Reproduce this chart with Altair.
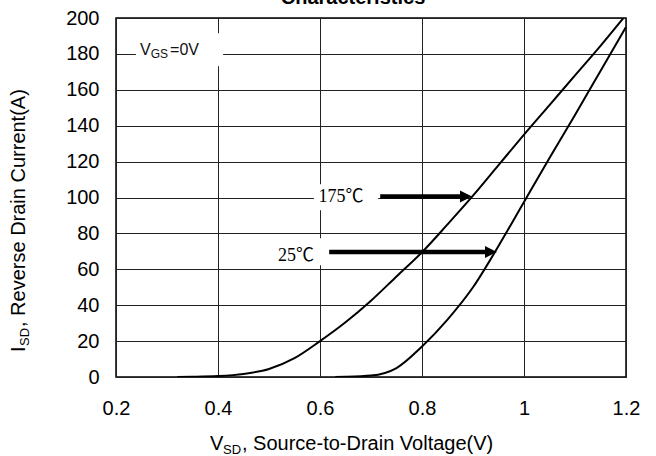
import altair as alt
import pandas as pd

# ---------------- data ----------------
vsd_175 = [0.32, 0.35, 0.40, 0.45, 0.50, 0.55, 0.60, 0.65, 0.70, 0.75, 0.80,
           0.85, 0.90, 0.95, 1.00, 1.05, 1.10, 1.15, 1.195]
isd_175 = [0, 0.1, 0.5, 1.7, 4.5, 10.5, 20, 30.5, 42.5, 56, 69.5,
           85, 101, 118, 135, 151.5, 168, 184.5, 200]
vsd_25 = [0.63, 0.65, 0.70, 0.75, 0.80, 0.85, 0.90, 0.95, 1.00, 1.05, 1.10, 1.15, 1.20]
isd_25 = [0, 0.1, 0.8, 5, 17, 32, 50, 73, 97.5, 122, 146, 170.5, 195]
series_names = ["175℃", "25℃"]
x_ticks = [0.2, 0.4, 0.6, 0.8, 1.0, 1.2]
y_ticks = [0, 20, 40, 60, 80, 100, 120, 140, 160, 180, 200]

# annotation anchors (data units)
label_v = [0.641, 0.553]
label_i = [100.5, 67.6]
arrow_start = [0.718, 0.618]
arrow_tip = [0.898, 0.947]
arrow_i = [100.5, 69.7]

W, H = 510, 359
SANS = "Liberation Sans, Arial, Helvetica, sans-serif"
SERIF = "Liberation Serif, Noto Sans CJK SC, serif"

curves = pd.concat([
    pd.DataFrame({"v": vsd_175, "i": isd_175, "s": series_names[0]}),
    pd.DataFrame({"v": vsd_25, "i": isd_25, "s": series_names[1]}),
])

xs = alt.Scale(domain=[0.2, 1.2], nice=False, zero=False)
ys = alt.Scale(domain=[0, 200], nice=False, zero=False)

X = alt.X("v:Q", scale=xs, axis=alt.Axis(
    values=x_ticks, format="~g", title=None, grid=True, gridColor="#222",
    gridWidth=1, gridOpacity=1, domain=False, ticks=False,
    labelFont=SANS, labelFontSize=20, labelColor="#000", labelPadding=21,
    labelFlush=False))
Y = alt.Y("i:Q", scale=ys, axis=alt.Axis(
    values=y_ticks, format="d", title=None, grid=True, gridColor="#222",
    gridWidth=1, gridOpacity=1, domain=False, ticks=False,
    labelFont=SANS, labelFontSize=20, labelColor="#000", labelPadding=17))

lines = alt.Chart(curves).mark_line(
    color="#000", strokeWidth=2, interpolate="monotone", clip=True
).encode(x=X, y=Y, detail="s:N")

# white boxes behind the annotation texts
boxes_df = pd.DataFrame({
    "v": [0.239, 0.588, 0.506], "v2": [0.410, 0.714, 0.610],
    "i": [173.1, 92.9, 62.2], "i2": [191.5, 107.4, 77.3]})
boxes = alt.Chart(boxes_df).mark_rect(fill="white", stroke=None).encode(
    x=X, x2="v2:Q", y=Y, y2="i2:Q")

temp_df = pd.DataFrame({"v": label_v, "i": label_i, "t": series_names})
temps = alt.Chart(temp_df).mark_text(
    font=SERIF, fontSize=18, color="#000", align="center", baseline="middle"
).encode(x=X, y=Y, text="t:N")

shaft_df = pd.DataFrame({"v": arrow_start, "v2": [t - 0.02 for t in arrow_tip], "i": arrow_i})
shafts = alt.Chart(shaft_df).mark_rule(color="#000", strokeWidth=4.5).encode(
    x=X, x2="v2:Q", y=Y)
tips_df = pd.DataFrame({"v": arrow_tip, "i": arrow_i})
tips = alt.Chart(tips_df).mark_point(
    shape="M0,0 L-1,-0.5 L-1,0.5 Z", filled=True, color="#000", opacity=1,
    size=576, strokeWidth=0
).encode(x=X, y=Y)

vgs_df = pd.DataFrame({
    "v": [0.247, 0.268, 0.306], "i": [179.2, 177.5, 179.2],
    "t": ["V", "GS", "=0V"], "fs": [16, 12, 16]})
vgs = alt.Chart(vgs_df).mark_text(
    font=SANS, color="#111", align="left", baseline="alphabetic"
).encode(x=X, y=Y, text="t:N", size=alt.Size("fs:Q", scale=None, legend=None))


def ptext(txt, px, py, fs, angle=0, bold=False):
    return alt.Chart(alt.Data(values=[{}])).mark_text(
        text=txt, font=SANS, fontSize=fs, color="#000", align="left",
        baseline="alphabetic", angle=angle,
        fontWeight="bold" if bold else "normal"
    ).encode(x=alt.value(px), y=alt.value(py))


# x axis title (with subscript)
xt = [ptext("V", 94, 432, 20), ptext("SD", 107, 436, 13),
      ptext(", Source-to-Drain Voltage(V)", 126, 432, 20)]
# y axis title (rotated, with subscript)
yt = [ptext("I", -91, 334, 20, 270), ptext("SD", -87, 328, 13, 270),
      ptext(", Reverse Drain Current(A)", -91, 309, 20, 270)]
# figure title, cut off at the top of the picture
title = alt.Chart(alt.Data(values=[{}])).mark_text(
    text="Characteristics", font=SANS, fontSize=20, fontWeight="bold",
    color="#000", align="center", baseline="alphabetic"
).encode(x=alt.value(237), y=alt.value(-14))

chart = alt.layer(
    boxes, lines, shafts, tips, temps, vgs, *xt, *yt, title
).properties(
    width=W, height=H,
    autosize=alt.AutoSizeParams(type="none"),
    padding={"left": 116, "top": 18, "right": 30, "bottom": 79},
    background="white",
).configure_view(stroke="#000", strokeWidth=1.5)

chart.save("out.html", embed_options={"renderer": "svg", "actions": False})
